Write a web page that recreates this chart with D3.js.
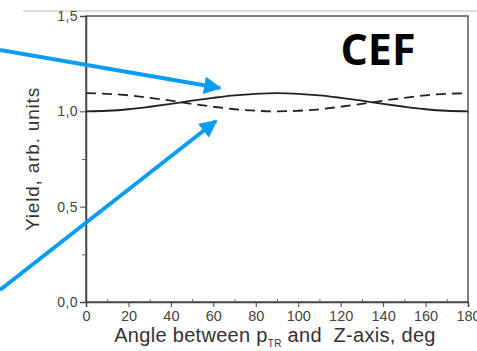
<!DOCTYPE html>
<html><head><meta charset="utf-8">
<script src="https://cdn.jsdelivr.net/npm/d3@7"></script>
<style>body{margin:0;background:#fff}svg{display:block}</style>
</head><body>
<svg id="c" width="477" height="351"></svg>
<script>
const angles = [0,10,20,30,40,50,60,70,80,90,100,110,120,130,140,150,160,170,180];
const solidYield  = [1.000,1.003,1.011,1.024,1.039,1.056,1.071,1.084,1.092,1.095,1.092,1.084,1.071,1.056,1.039,1.024,1.011,1.003,1.000];
const dashedYield = [1.095,1.092,1.084,1.071,1.056,1.039,1.024,1.011,1.003,1.000,1.003,1.011,1.024,1.039,1.056,1.071,1.084,1.092,1.095];
const xTicks = [0,20,40,60,80,100,120,140,160,180];
const yTicks = [0.0,0.5,1.0,1.5];
const xLabel = "Angle between p";
const xLabelSub = "TR";
const xLabelEnd = " and  Z-axis, deg";
const yLabel = "Yield, arb. units";
const tag = "CEF";

const svg = d3.select("#c");
const L=86,R=468,T=16,B=302;
const x = d3.scaleLinear().domain([0,180]).range([L,R]);
const y = d3.scaleLinear().domain([0,1.5]).range([B,T]);
const FONT = "Liberation Sans, Arial, sans-serif";

// faint outer line
svg.append("line").attr("x1",23).attr("x2",477).attr("y1",11).attr("y2",11).attr("stroke","#bbb").attr("stroke-width",1);

// frame
svg.append("rect").attr("x",L).attr("y",T).attr("width",R-L).attr("height",B-T)
  .attr("fill","none").attr("stroke","#555").attr("stroke-width",1.5);

const fmt = d => d3.format(".1f")(d).replace(".",",");
const yAx = svg.append("g").attr("transform",`translate(${L},0)`)
  .call(d3.axisLeft(y).tickValues(yTicks).tickFormat(fmt).tickSize(6).tickPadding(2));
yAx.select(".domain").attr("stroke","#444").attr("stroke-width",1.5);
yAx.selectAll(".tick line").attr("stroke","#444");
yAx.selectAll("text").attr("font-family",FONT).attr("font-size",14).attr("letter-spacing",0.4).attr("fill","#444");
// minor y ticks
svg.append("g").attr("transform",`translate(${L},0)`)
  .call(d3.axisLeft(y).tickValues([0.25,0.75,1.25]).tickFormat("").tickSize(4))
  .call(g=>{g.select(".domain").remove();g.selectAll("line").attr("stroke","#666");});

const xAx = svg.append("g").attr("transform",`translate(0,${B})`)
  .call(d3.axisBottom(x).tickValues(xTicks).tickSize(5).tickPadding(4));
xAx.select(".domain").attr("stroke","#444").attr("stroke-width",1.5);
xAx.selectAll(".tick line").attr("stroke","#444");
xAx.selectAll("text").attr("font-family",FONT).attr("font-size",14.5).attr("fill","#444");
// minor x ticks (inward)
svg.append("g").attr("transform",`translate(0,${B})`)
  .call(d3.axisTop(x).tickValues(d3.range(10,180,20)).tickFormat("").tickSize(3))
  .call(g=>{g.select(".domain").remove();g.selectAll("line").attr("stroke","#666");});

// curves
const line = d3.line().x((d,i)=>x(angles[i])).y(d=>y(d)).curve(d3.curveCatmullRom);
svg.append("path").datum(solidYield).attr("d",line).attr("fill","none")
  .attr("stroke","#222").attr("stroke-width",1.8);
svg.append("path").datum(dashedYield).attr("d",line).attr("fill","none")
  .attr("stroke","#222").attr("stroke-width",1.8).attr("stroke-dasharray","10,6");

// labels
const xl = svg.append("text").attr("x",(L+R)/2-2).attr("y",342).attr("text-anchor","middle")
  .style("white-space","pre")
  .attr("font-family",FONT).attr("font-size",20).attr("letter-spacing",0.3).attr("fill","#333");
xl.append("tspan").text(xLabel);
xl.append("tspan").text(xLabelSub).attr("font-size",10).attr("dy",5);
xl.append("tspan").text(xLabelEnd).attr("dy",-5);

svg.append("text").attr("transform","translate(39,159) rotate(-90)").attr("text-anchor","middle")
  .attr("font-family",FONT).attr("font-size",19).attr("letter-spacing",0.8).attr("fill","#333").text(yLabel);

svg.append("text").attr("x",378).attr("y",65).attr("text-anchor","middle")
  .attr("font-family","Open Sans, sans-serif").attr("font-weight",700).attr("font-size",43).attr("fill","#000").text(tag);

// arrows
const blue="#0a9cf3";
const defs = svg.append("defs");
defs.append("marker").attr("id","ah").attr("viewBox","0 0 10 10").attr("refX",9).attr("refY",5)
  .attr("markerWidth",4.5).attr("markerHeight",4.4).attr("orient","auto").attr("markerUnits","strokeWidth")
  .append("path").attr("d","M0,0L10,5L0,10z").attr("fill",blue);
function arrow(x1,y1,x2,y2){
  svg.append("line").attr("x1",x1).attr("y1",y1).attr("x2",x2).attr("y2",y2)
    .attr("stroke",blue).attr("stroke-width",4).attr("marker-end","url(#ah)");
}
arrow(0,50,220,88);
arrow(0,290,216,121);
</script>
</body></html>
